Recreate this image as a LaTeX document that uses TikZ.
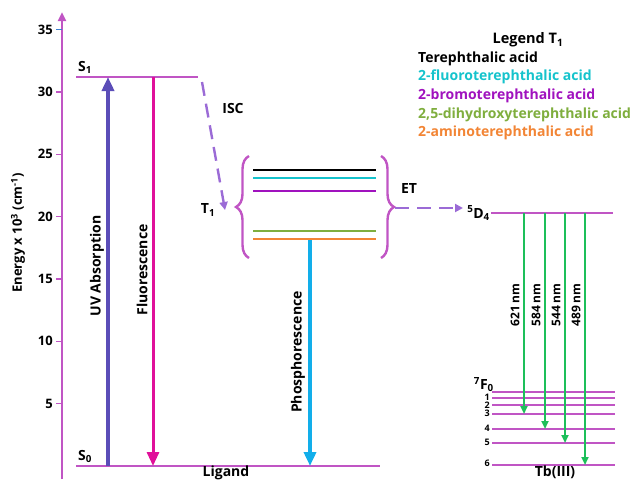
\documentclass[tikz,border=0pt]{standalone}
\usepackage{fontspec}
\setmainfont{Open Sans}
\usetikzlibrary{arrows.meta,positioning,decorations.pathreplacing}
\definecolor{orquidea}{HTML}{C055C4}
\definecolor{azulabs}{HTML}{5B4DB8}
\definecolor{magentafl}{HTML}{E0109A}
\definecolor{cianfosf}{HTML}{12AEEA}
\definecolor{verdeem}{HTML}{1DBF5A}
\definecolor{lilaisc}{HTML}{9B6BD6}
\definecolor{cianleg}{HTML}{15C3CC}
\definecolor{moradoleg}{HTML}{A012BE}
\definecolor{verdeleg}{HTML}{7FAE3E}
\definecolor{naranjaleg}{HTML}{F28535}
\definecolor{azultick}{HTML}{3A7FD0}

\begin{document}
\begin{tikzpicture}[x=1pt, y=-1pt,
    font=\bfseries,
    nivel/.style={draw=orquidea, line width=2.8pt},
    tnivel/.style={line width=2.4pt},
    eje/.style={draw=orquidea, line width=2.6pt, -{Triangle[length=9pt, width=8pt]}},
    grueso/.style={line width=4pt, -{Triangle[length=14pt, width=12pt]}},
    verde/.style={draw=verdeem, line width=2pt, -{Triangle[length=8pt, width=7pt]}},
    discont/.style={draw=lilaisc, line width=2.4pt, dash pattern=on 14pt off 8pt,
      -{Triangle[length=8pt, width=8pt]}},
    llave/.style={draw=orquidea, line width=2.4pt,
      decorate, decoration={brace, amplitude=13pt}},
    etiq/.style={font=\bfseries\fontsize{14}{16}\selectfont},
    rotul/.style={rotate=90, font=\bfseries\fontsize{14}{16}\selectfont},
    ondal/.style={rotate=90, anchor=south, font=\bfseries\fontsize{12}{14}\selectfont},
    nivlbl/.style={font=\bfseries\fontsize{9}{10}\selectfont, anchor=east, inner sep=1pt},
    leyenda/.style={anchor=west, inner sep=0pt, font=\bfseries\fontsize{14}{16}\selectfont}
  ]
    \useasboundingbox (0,0) rectangle (637,480);

    \coordinate (ejeabajo) at (62,479);
    \coordinate (ejearriba) at (62,12);
    \draw[eje] (ejeabajo) -- (ejearriba);
    \foreach \v/\c in {5/orquidea,10/orquidea,15/orquidea,20/orquidea,25/orquidea,30/orquidea,35/azultick} {
      \coordinate (marca\v) at (62,466-12.47*\v);
      \draw[draw=\c, line width=1.5pt] (marca\v) -- ++(-6,0);
      \node[etiq, font=\bfseries\fontsize{13}{15}\selectfont, anchor=east, inner sep=0pt]
        (num\v) at (53,466-12.47*\v) {\v};
    }
    \node[rotate=90, font=\bfseries\fontsize{13}{15}\selectfont] (energia) at (18,233)
      {Energy x 10\textsuperscript{3} (cm\textsuperscript{-1})};

    \coordinate (s1izq) at (76,77);
    \coordinate (s1der) at (198,77);
    \coordinate (s0izq) at (76,466);
    \coordinate (s0der) at (380,466);
    \draw[nivel] (s1izq) -- (s1der);
    \draw[nivel] (s0izq) -- (s0der);
    \node[etiq, anchor=south west, inner sep=1pt] (s1) at (77,75) {S\textsubscript{1}};
    \node[etiq, anchor=south west, inner sep=1pt] (s0) at (77,464) {S\textsubscript{0}};
    \node[etiq, anchor=base, inner sep=0pt] (ligando) at (226,476) {Ligand};

    \coordinate (uvbase) at (108,466);
    \coordinate (uvtope) at (108,77);
    \draw[grueso, draw=azulabs, fill=azulabs] (uvbase) -- (uvtope);
    \node[rotul] (uvtxt) at (97,266) {UV Absorption};
    \coordinate (fltope) at (153,77);
    \coordinate (flbase) at (153,466);
    \draw[grueso, line width=3pt, draw=magentafl, fill=magentafl] (fltope) -- (flbase);
    \node[rotul] (fltxt) at (142,270) {Fluorescence};

    \coordinate (iscini) at (202,82);
    \coordinate (iscfin) at (225,210);
    \draw[discont] (iscini) -- (iscfin);
    \node[etiq] (isc) at (233,108) {ISC};
    \node[etiq] (t1) at (208,210) {T\textsubscript{1}};

    \draw[llave] (249,258) -- (249,156);
    \draw[llave] (381,156) -- (381,258);
    \foreach \y/\c in {170/black,178/cianleg,191/moradoleg,231/verdeleg,239/naranjaleg} {
      \draw[tnivel, draw=\c] (253,\y) -- (376,\y);
    }

    \coordinate (fosfini) at (310,240);
    \coordinate (fosffin) at (310,466);
    \draw[grueso, line width=3.5pt, draw=cianfosf, fill=cianfosf] (fosfini) -- (fosffin);
    \node[rotul] (fosftxt) at (298,352) {Phosphorescence};

    \coordinate (etini) at (395,208);
    \coordinate (etfin) at (463,208);
    \draw[discont] (etini) -- (etfin);
    \node[etiq] (et) at (409,188) {ET};

    \coordinate (d4izq) at (491,213);
    \coordinate (d4der) at (613,213);
    \draw[nivel] (d4izq) -- (d4der);
    \node[etiq, anchor=east, inner sep=1pt] (d4) at (491,213) {\textsuperscript{5}D\textsubscript{4}};

    \foreach \j/\y in {0/392,1/398,2/405,3/414,4/429,5/443,6/465} {
      \coordinate (f\j izq) at (492,\y);
      \coordinate (f\j der) at (615,\y);
      \draw[nivel, line width=2.4pt] (f\j izq) -- (f\j der);
    }
    \node[etiq, anchor=south east, inner sep=1pt] (f0) at (495,393) {\textsuperscript{7}F\textsubscript{0}};
    \foreach \j/\y in {1/397,2/405,3/413,4/428,5/442,6/463} {
      \node[nivlbl] (fl\j) at (491,\y) {\j};
    }

    \foreach \x/\j/\nm in {524/3/621,545/4/584,565/5/544,585/6/489} {
      \coordinate (verdeini\j) at (\x,213);
      \draw[verde] (verdeini\j) -- (\x,0 |- f\j izq);
      \node[ondal] (long\nm) at (\x-1,305) {\nm\ nm};
    }
    \node[etiq, anchor=base, inner sep=0pt] (tb) at (555,476) {Tb(III)};

    \node[etiq, font=\bfseries\fontsize{14.5}{16}\selectfont] (leyendat) at (528,40) {Legend T\textsubscript{1}};
    \node[leyenda] (ley1) at (418,59) {Terephthalic acid};
    \node[leyenda, text=cianleg] (ley2) at (418,77) {2-fluoroterephthalic acid};
    \node[leyenda, text=moradoleg] (ley3) at (418,96) {2-bromoterephthalic acid};
    \node[leyenda, text=verdeleg] (ley4) at (418,115) {2,5-dihydroxyterephthalic acid};
    \node[leyenda, text=naranjaleg] (ley5) at (418,133) {2-aminoterephthalic acid};
  \end{tikzpicture}
\end{document}
